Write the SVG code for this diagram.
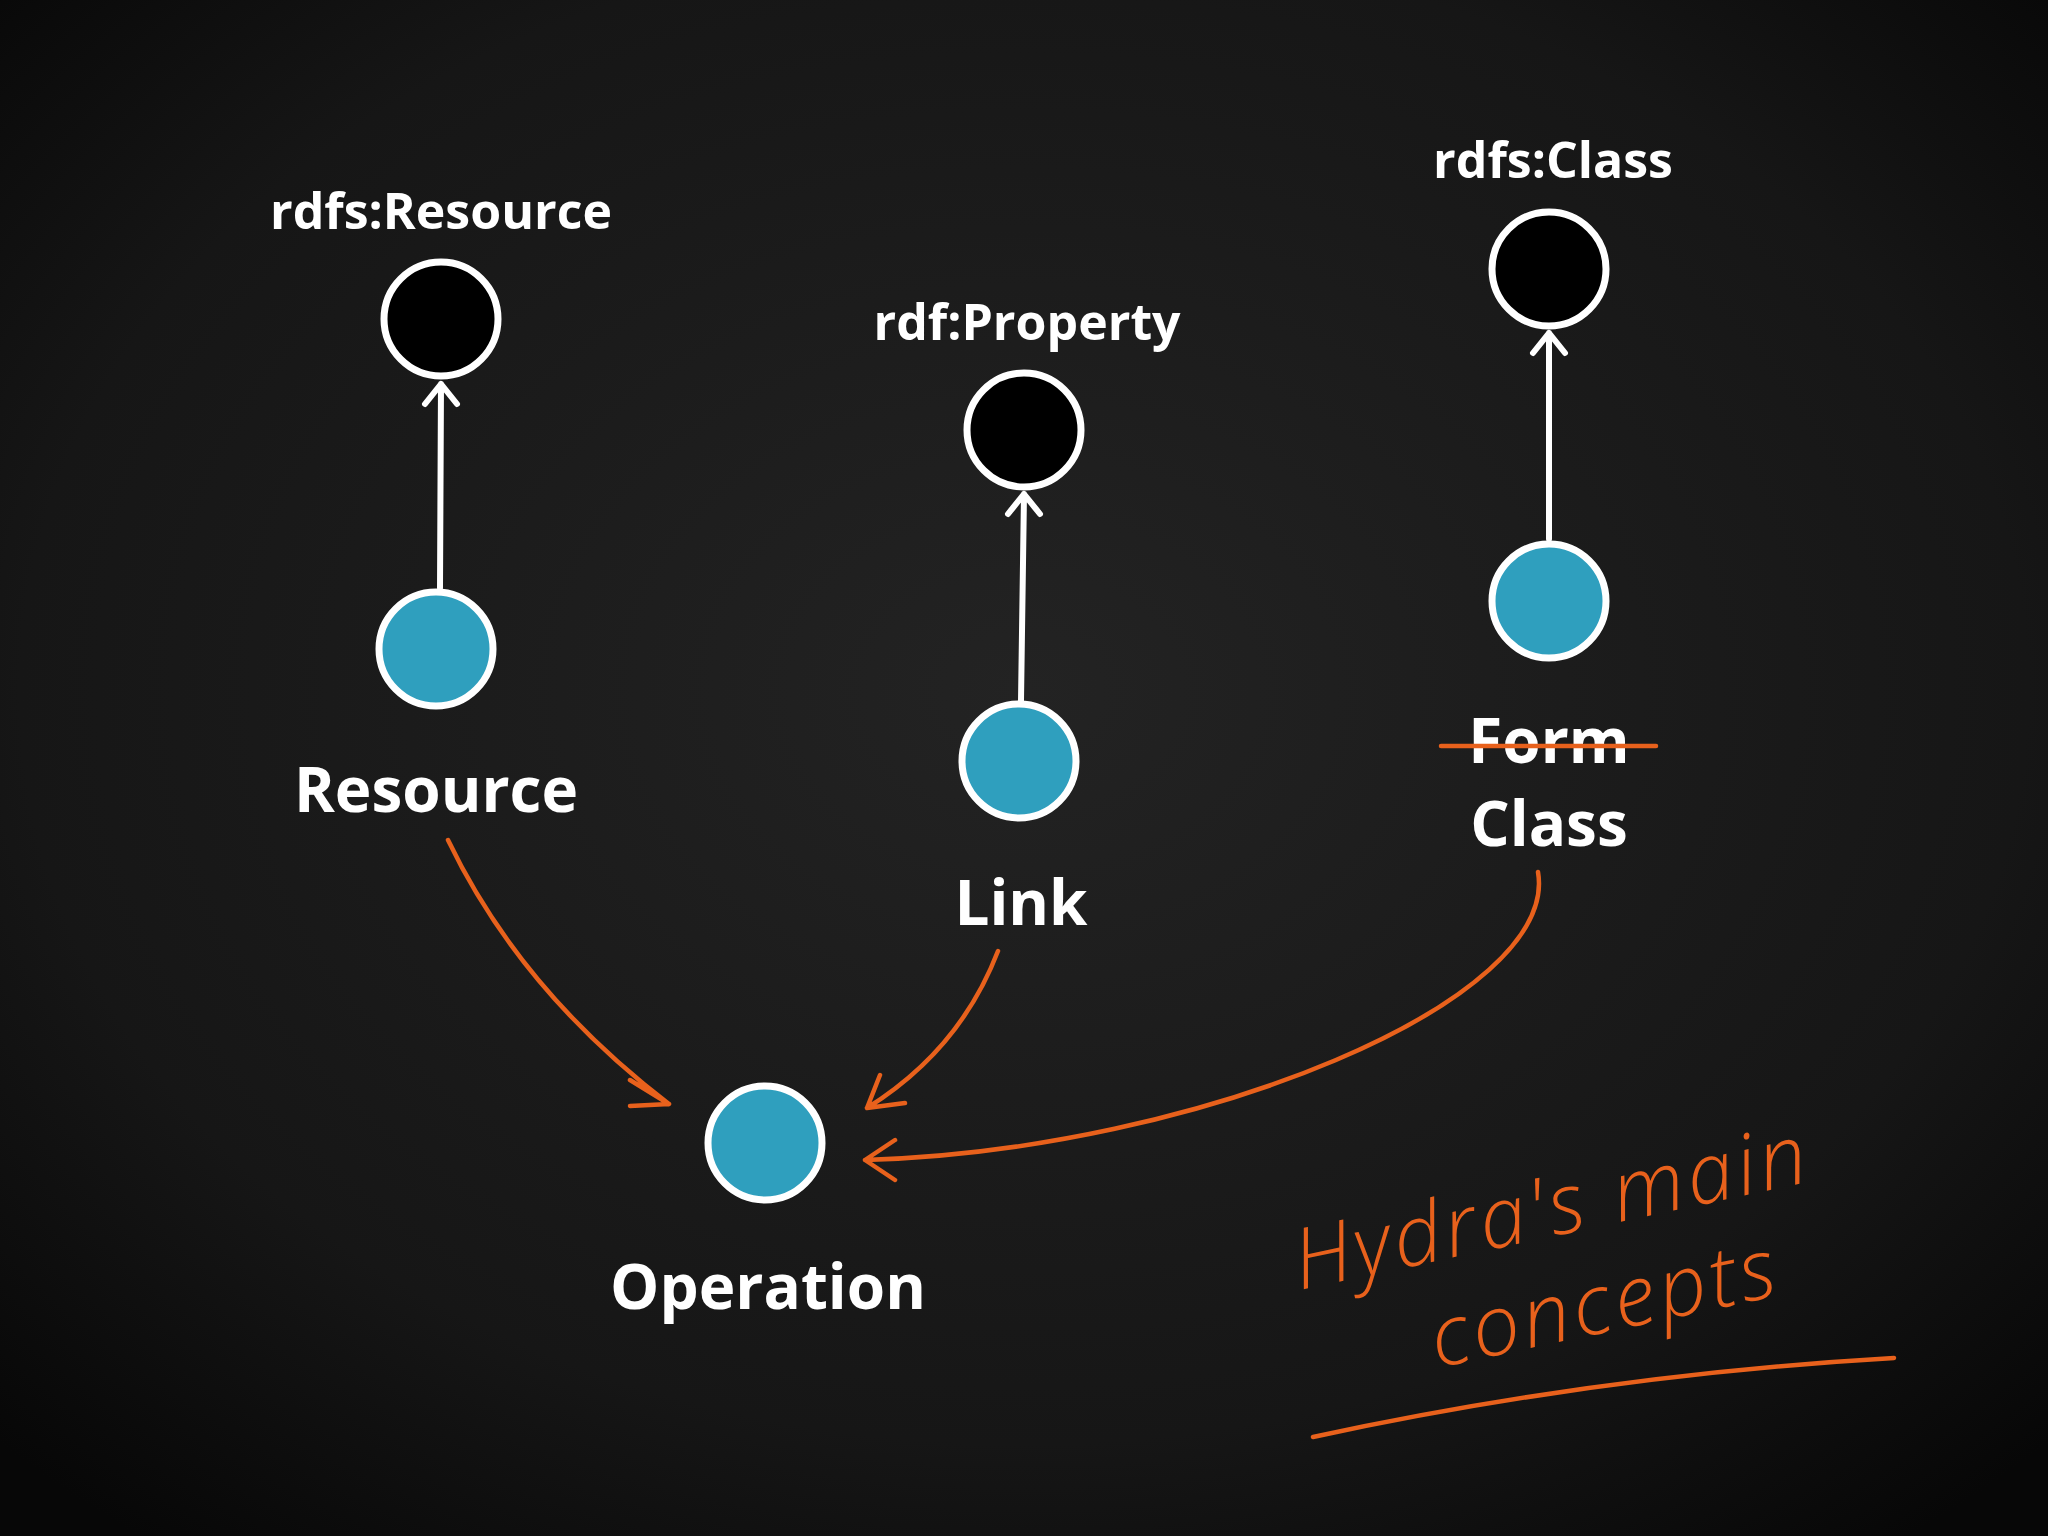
<svg xmlns="http://www.w3.org/2000/svg" width="2048" height="1536" viewBox="0 0 2048 1536">
<defs>
<radialGradient id="bg" cx="50%" cy="45%" r="70%">
<stop offset="0" stop-color="#232323"/><stop offset="0.7" stop-color="#161616"/><stop offset="1" stop-color="#070707"/>
</radialGradient>
<style>
.lbl{font-family:"Open Sans","Liberation Sans",sans-serif;font-weight:bold;fill:#fff;text-anchor:middle}
.s{font-size:50px}.b{font-size:62px}
.blk{fill:#000;stroke:#fff;stroke-width:7}
.blu{fill:#2f9fbe;stroke:#fff;stroke-width:7}
.wl{stroke:#fff;stroke-width:6;fill:none;stroke-linecap:round;stroke-linejoin:round}
.ol{stroke:#e8611c;stroke-width:4.5;fill:none;stroke-linecap:round;stroke-linejoin:round}
.hw{font-family:"Open Sans","Liberation Sans",sans-serif;font-style:italic;font-weight:300;font-size:84px;fill:#e8611c;letter-spacing:4px}
</style>
</defs>
<rect width="2048" height="1536" fill="url(#bg)"/>
<g id="connectors">
<path class="wl" d="M440 588 L441 384 M425 404 L441 384 L457 404"/>
<path class="wl" d="M1021 701 L1024 494 M1008 514 L1024 494 L1040 514"/>
<path class="wl" d="M1549 539 L1549 333 M1533 353 L1549 333 L1565 353"/>
<path class="ol" d="M448 840 Q520 990 669 1104 M630 1080 L669 1104 L630 1106"/>
<path class="ol" d="M998 951 Q960 1050 867 1108 M880 1075 L867 1108 L905 1103"/>
<path class="ol" d="M1538 872 C1560 1000 1200 1150 865 1160 M895 1140 L865 1160 L895 1180"/>
</g>
<g id="rdfsResource"><circle class="blk" cx="441" cy="319" r="57"/><text class="lbl s" x="441" y="229">rdfs:Resource</text></g>
<g id="Resource"><circle class="blu" cx="436" cy="649" r="57"/><text class="lbl b" x="436" y="812">Resource</text></g>
<g id="rdfProperty"><circle class="blk" cx="1024" cy="430" r="57"/><text class="lbl s" x="1027" y="340">rdf:Property</text></g>
<g id="Link"><circle class="blu" cx="1019" cy="761" r="57"/><text class="lbl b" x="1021" y="925">Link</text></g>
<g id="rdfsClass"><circle class="blk" cx="1549" cy="269" r="57"/><text class="lbl s" x="1553" y="178">rdfs:Class</text></g>
<g id="Class"><circle class="blu" cx="1549" cy="601" r="57"/><text class="lbl b" x="1549" y="763">Form</text><text class="lbl b" x="1549" y="846">Class</text><path class="ol" d="M1441 746 L1656 746"/></g>
<g id="Operation"><circle class="blu" cx="765" cy="1143" r="57"/><text class="lbl b" x="768" y="1309">Operation</text></g>
<g id="note">
<text class="hw" transform="translate(1300,1290) rotate(-12)">Hydra's main</text>
<text class="hw" transform="translate(1437,1368) rotate(-12)">concepts</text>
<path class="ol" d="M1313 1437 Q1600 1375 1894 1358"/>
</g>
</svg>
